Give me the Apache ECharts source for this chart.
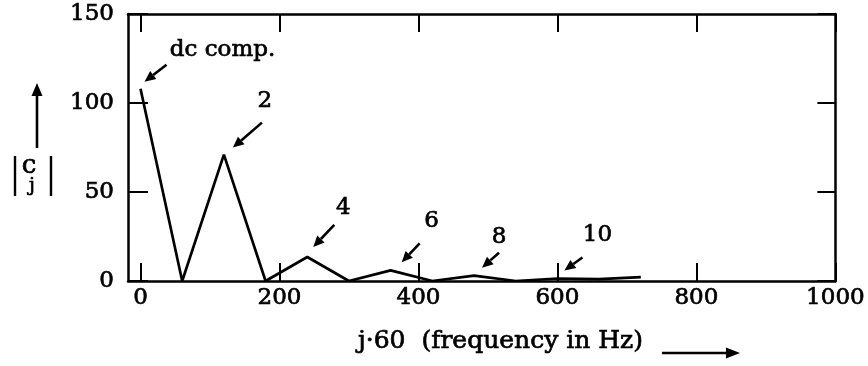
<!DOCTYPE html>
<html>
<head>
<meta charset="utf-8">
<script src="https://cdn.jsdelivr.net/npm/echarts@6/dist/echarts.min.js"></script>
<style>
  html, body { margin: 0; padding: 0; background: #fff; }
  #chart { width: 868px; height: 366px; }
</style>
</head>
<body>
<div id="chart"></div>
<script>
// Harmonic spectrum |c_j| against frequency j·60 Hz
const freqHz    = [0, 60, 120, 180, 240, 300, 360, 420, 480, 540, 600, 660, 720];
const magnitude = [108, 0, 71, 0, 13.5, 0, 6, 0, 3, 0, 1.4, 1, 2.2];
const xTicks = [0, 200, 400, 600, 800, 1000];
const yTicks = [0, 50, 100, 150];

// Callouts: text and the harmonic (index into freqHz) each arrow points at
const noteLabels = ['dc comp.', '2', '4', '6', '8', '10'];
const noteHarmonic = [0, 2, 4, 6, 8, 10];

// Pixel offsets of each callout from its point: arrow tip, arrow tail, text centre
const noteLayout = [
  { tip: [4, -7],  tail: [26, -24], text: [82, -39] },
  { tip: [9, -7],  tail: [38, -32], text: [41, -54] },
  { tip: [6, -10], tail: [27, -32], text: [36, -49] },
  { tip: [11, -8], tail: [29, -27], text: [41, -49] },
  { tip: [8, -8],  tail: [25, -23], text: [25, -39] },
  { tip: [7, -8],  tail: [25, -21], text: [40, -43] }
];

const FONT = '"DejaVu Serif", "Liberation Serif", serif';
const INK = '#000';
const HEAVY = 0.7; // stroke added round glyphs for a heavier print look

const chart = echarts.init(document.getElementById('chart'), null, { renderer: 'canvas' });

const frameLine = { show: true, onZero: false, lineStyle: { color: INK, width: 2.5 } };
const tickStyle = { color: INK, width: 2 };
const labelStyle = {
  show: true, color: INK, fontFamily: FONT, fontSize: 23,
  textBorderColor: INK, textBorderWidth: HEAVY,
  formatter: v => String(v)
};

const xBase = {
  type: 'value', min: -18, max: 1000,
  axisLine: frameLine,
  splitLine: { show: false }
};
const yBase = {
  type: 'value', min: 0, max: 150, interval: 50,
  axisLine: frameLine,
  splitLine: { show: false }
};

chart.setOption({
  animation: false,
  backgroundColor: '#fff',
  grid: { left: 128, right: 30, top: 14, bottom: 85 },
  xAxis: [
    Object.assign({}, xBase, {
      position: 'bottom',
      axisTick: { show: true, inside: true, length: 18, customValues: xTicks, lineStyle: tickStyle },
      axisLabel: Object.assign({}, labelStyle, { customValues: xTicks, margin: 6 })
    }),
    Object.assign({}, xBase, {
      position: 'top',
      axisTick: { show: true, inside: true, length: 18, customValues: xTicks, lineStyle: tickStyle },
      axisLabel: { show: false }
    })
  ],
  yAxis: [
    Object.assign({}, yBase, {
      position: 'left',
      axisTick: { show: true, inside: true, length: 20, customValues: yTicks, lineStyle: tickStyle },
      axisLabel: Object.assign({}, labelStyle, { customValues: yTicks, margin: 14 })
    }),
    Object.assign({}, yBase, {
      position: 'right',
      axisTick: { show: true, inside: true, length: 18, customValues: yTicks, lineStyle: tickStyle },
      axisLabel: { show: false }
    })
  ],
  series: [{
    type: 'line',
    xAxisIndex: 0,
    yAxisIndex: 0,
    data: freqHz.map((f, i) => [f, magnitude[i]]),
    symbol: 'none',
    lineStyle: { color: INK, width: 2.7 },
    z: 3
  }]
});

// Arrow made of a shaft and a filled head, from tail to tip
function arrow(tail, tip, headLen, headWidth, width) {
  const dx = tip[0] - tail[0], dy = tip[1] - tail[1];
  const len = Math.hypot(dx, dy);
  const ux = dx / len, uy = dy / len;
  const bx = tip[0] - ux * headLen, by = tip[1] - uy * headLen;
  const px = -uy * headWidth / 2, py = ux * headWidth / 2;
  return [
    { type: 'line', shape: { x1: tail[0], y1: tail[1], x2: bx, y2: by },
      style: { stroke: INK, lineWidth: width }, z: 10 },
    { type: 'polygon', shape: { points: [[tip[0], tip[1]], [bx + px, by + py], [bx - px, by - py]] },
      style: { fill: INK }, z: 10 }
  ];
}

function label(txt, x, y, size, align) {
  return {
    type: 'text', z: 10,
    style: { text: txt, x: x, y: y, align: align || 'center', verticalAlign: 'middle',
             font: size + 'px ' + FONT, fill: INK, stroke: INK, lineWidth: HEAVY }
  };
}

const elements = [];

noteLabels.forEach((txt, k) => {
  const h = noteHarmonic[k];
  const p = chart.convertToPixel({ gridIndex: 0 }, [freqHz[h], magnitude[h]]);
  const L = noteLayout[k];
  const tip = [p[0] + L.tip[0], p[1] + L.tip[1]];
  const tail = [p[0] + L.tail[0], p[1] + L.tail[1]];
  elements.push(...arrow(tail, tip, 11, 10, 2.6));
  elements.push(label(txt, p[0] + L.text[0], p[1] + L.text[1], 23));
});

// Vertical axis title |c_j| with an upward arrow
elements.push(...arrow([37, 148], [37, 83], 13, 11, 2.6));
elements.push(
  { type: 'line', shape: { x1: 15, y1: 156, x2: 15, y2: 196 }, style: { stroke: INK, lineWidth: 2.4 } },
  { type: 'line', shape: { x1: 51, y1: 156, x2: 51, y2: 196 }, style: { stroke: INK, lineWidth: 2.4 } },
  label('c', 29, 166, 26),
  label('j', 32, 186, 19)
);

// Horizontal axis title with a rightward arrow
elements.push(label('j·60  (frequency in Hz)', 358, 341, 25, 'left'));
elements.push(...arrow([662, 353], [740, 353], 14, 11, 2.4));

chart.setOption({ graphic: { elements: elements } });
</script>
</body>
</html>
